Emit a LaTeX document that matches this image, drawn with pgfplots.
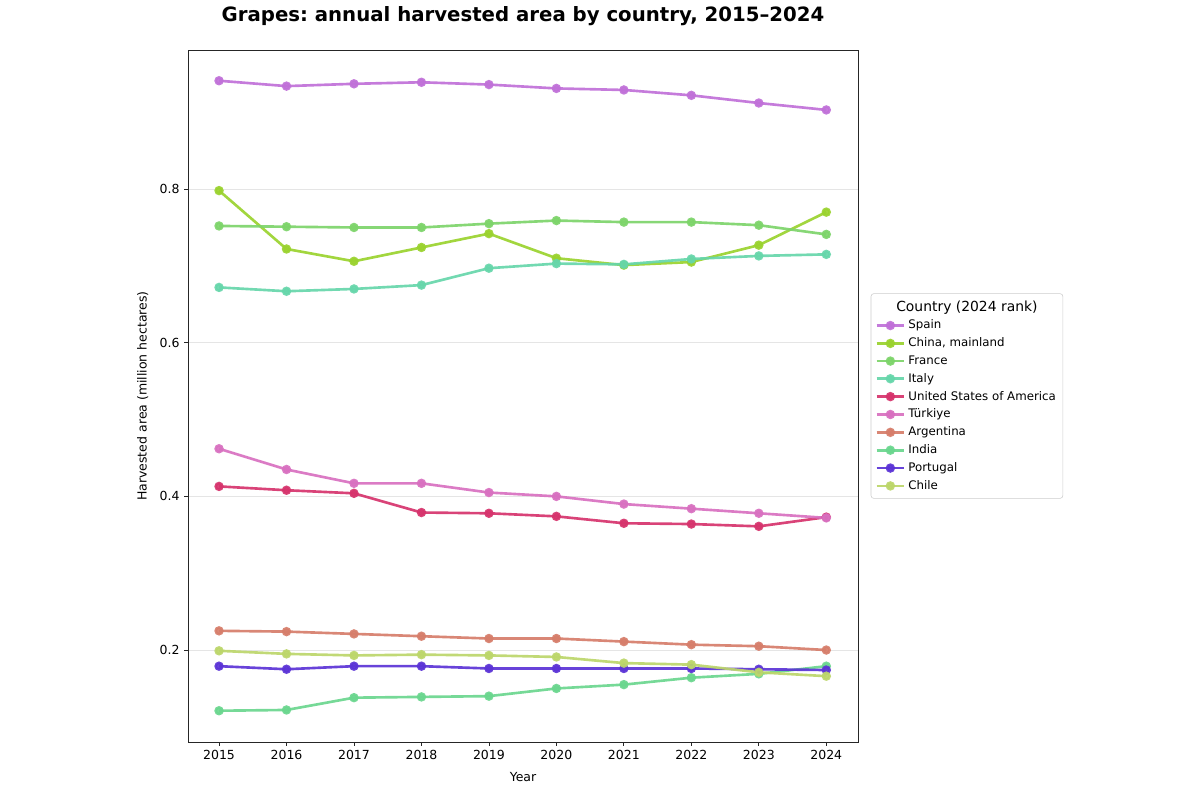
\documentclass[border=0pt]{standalone}
\usepackage{fontspec}
\setmainfont{DejaVu Sans}
\usepackage{pgfplots}
\pgfplotsset{compat=1.18}
\frenchspacing

\definecolor{cSpain}{RGB}{192,112,216}
\definecolor{cChina}{RGB}{154,210,46}
\definecolor{cFrance}{RGB}{125,212,106}
\definecolor{cItaly}{RGB}{102,214,170}
\definecolor{cUSA}{RGB}{214,51,108}
\definecolor{cTurkiye}{RGB}{216,112,192}
\definecolor{cArgentina}{RGB}{214,125,106}
\definecolor{cIndia}{RGB}{106,214,142}
\definecolor{cPortugal}{RGB}{91,51,214}
\definecolor{cChile}{RGB}{188,214,106}

\pgfplotsset{
  series/.style={color=#1, line width=1.9pt, mark=*, mark size=2.4pt,
    opacity=0.92, mark options={solid}},
}

\begin{document}
\frenchspacing
\begin{tikzpicture}
\path[use as bounding box] (-135.36pt,-41.76pt) rectangle (728.64pt,534.24pt);
\begin{axis}[
  at={(0,0)}, anchor=south west,
  scale only axis, width=482.4pt, height=498.24pt,
  xmin=2014.54, xmax=2024.47, ymin=0.0803, ymax=0.981,
  xtick={2015,2016,2017,2018,2019,2020,2021,2022,2023,2024},
  ytick={0.2,0.4,0.6,0.8},
  x tick label style={/pgf/number format/1000 sep={}},
  y tick label style={/pgf/number format/fixed, /pgf/number format/precision=1,
    /pgf/number format/fixed zerofill},
  /pgf/number format/assume math mode=true,
  tick label style={font=\fontsize{9}{10}\selectfont},
  tick align=outside, tick pos=left,
  major tick length=2.6pt,
  tick style={black!85, line width=0.6pt},
  ymajorgrids, grid style={black!10, line width=0.6pt},
  axis line style={black!85, line width=0.6pt},
  xlabel={Year}, ylabel={Harvested area (million hectares)},
  label style={font=\fontsize{9}{10}\selectfont},
  xlabel style={at={(0.5,0)}, anchor=north, yshift=-18pt},
  ylabel style={at={(0,0.5)}, anchor=south, rotate=0, yshift=25pt},
  title={\bfseries Grapes: annual harvested area by country, 2015–2024},
  title style={font=\fontsize{14.2}{16}\selectfont, at={(0.5,1)}, anchor=base, yshift=14.4pt},
  legend style={at={(1.019,0.5)}, anchor=west, draw=black!20, rounded corners=2pt,
    font=\fontsize{8.5}{10}\selectfont, row sep=0.9pt, inner sep=3pt},
  legend cell align=left,
  legend image code/.code={\draw[mark repeat=2, mark phase=2, #1]
    plot coordinates {(0pt,0pt) (10pt,0pt) (20pt,0pt)};},
]
\addlegendimage{empty legend}
\addlegendentry{\hspace*{-8.7pt}\fontsize{10}{11}\selectfont Country (2024 rank)}

\addplot[series=cSpain] coordinates {
 (2015,0.941) (2016,0.934) (2017,0.937) (2018,0.939) (2019,0.936)
 (2020,0.931) (2021,0.929) (2022,0.922) (2023,0.912) (2024,0.903)};
\addlegendentry{Spain}
\addplot[series=cChina] coordinates {
 (2015,0.798) (2016,0.722) (2017,0.706) (2018,0.724) (2019,0.742)
 (2020,0.710) (2021,0.701) (2022,0.705) (2023,0.727) (2024,0.770)};
\addlegendentry{China, mainland}
\addplot[series=cFrance] coordinates {
 (2015,0.752) (2016,0.751) (2017,0.750) (2018,0.750) (2019,0.755)
 (2020,0.759) (2021,0.757) (2022,0.757) (2023,0.753) (2024,0.741)};
\addlegendentry{France}
\addplot[series=cItaly] coordinates {
 (2015,0.672) (2016,0.667) (2017,0.670) (2018,0.675) (2019,0.697)
 (2020,0.703) (2021,0.702) (2022,0.709) (2023,0.713) (2024,0.715)};
\addlegendentry{Italy}
\addplot[series=cUSA] coordinates {
 (2015,0.413) (2016,0.408) (2017,0.404) (2018,0.379) (2019,0.378)
 (2020,0.374) (2021,0.365) (2022,0.364) (2023,0.361) (2024,0.373)};
\addlegendentry{United States of America}
\addplot[series=cTurkiye] coordinates {
 (2015,0.462) (2016,0.435) (2017,0.417) (2018,0.417) (2019,0.405)
 (2020,0.400) (2021,0.390) (2022,0.384) (2023,0.378) (2024,0.372)};
\addlegendentry{Türkiye}
\addplot[series=cArgentina] coordinates {
 (2015,0.225) (2016,0.224) (2017,0.221) (2018,0.218) (2019,0.215)
 (2020,0.215) (2021,0.211) (2022,0.207) (2023,0.205) (2024,0.200)};
\addlegendentry{Argentina}
\addplot[series=cIndia] coordinates {
 (2015,0.121) (2016,0.122) (2017,0.138) (2018,0.139) (2019,0.140)
 (2020,0.150) (2021,0.155) (2022,0.164) (2023,0.169) (2024,0.179)};
\addlegendentry{India}
\addplot[series=cPortugal] coordinates {
 (2015,0.179) (2016,0.175) (2017,0.179) (2018,0.179) (2019,0.176)
 (2020,0.176) (2021,0.176) (2022,0.176) (2023,0.175) (2024,0.174)};
\addlegendentry{Portugal}
\addplot[series=cChile] coordinates {
 (2015,0.199) (2016,0.195) (2017,0.193) (2018,0.194) (2019,0.193)
 (2020,0.191) (2021,0.183) (2022,0.181) (2023,0.171) (2024,0.166)};
\addlegendentry{Chile}
\end{axis}
\end{tikzpicture}
\end{document}
